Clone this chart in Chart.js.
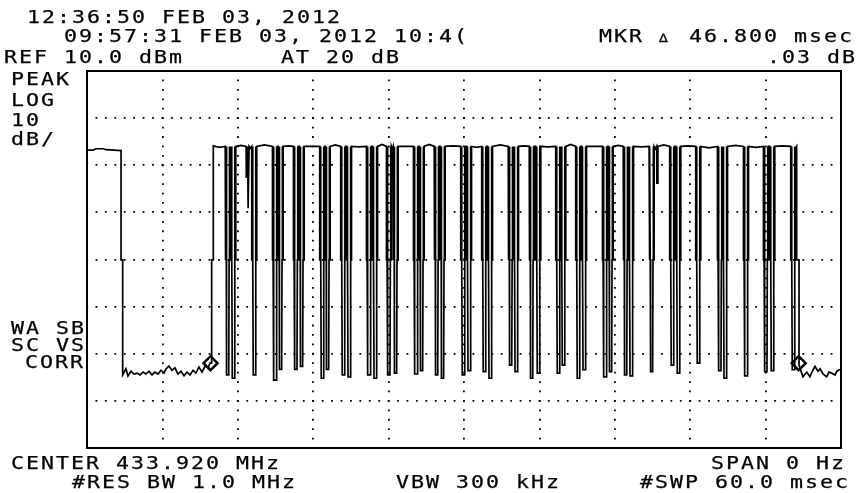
<!DOCTYPE html>
<html>
<head>
<meta charset="utf-8">
<script src="https://cdn.jsdelivr.net/npm/chart.js@4.4.1/dist/chart.umd.min.js"></script>
<style>
body { margin: 0; background: #fff; }
#wrap { position: relative; width: 859px; height: 493px; overflow: hidden; }
.t {
    position: absolute;
    font-family: "DejaVu Sans Mono", monospace;
    font-size: 18px;
    line-height: 18px;
    letter-spacing: 1.66px;
    white-space: pre;
    color: #000;
    -webkit-text-stroke: 0.25px #000;
    transform: scaleX(1.2);
    transform-origin: 0 0;
}
.d { font-size: 12px; letter-spacing: 5.28px; }
</style>
</head>
<body>
<div id="wrap">
    <canvas id="chart" width="859" height="493"></canvas>
    <div class="t" style="left:27px;top:8px">12:36:50 FEB 03, 2012</div>
    <div class="t" style="left:64px;top:27px">09:57:31 FEB 03, 2012 10:4(</div>
    <div class="t" style="left:4px;top:48px">REF 10.0 dBm</div>
    <div class="t" style="left:281px;top:48px">AT 20 dB</div>
    <div class="t" style="left:599px;top:27px">MKR <span class="d">∆</span> 46.800 msec</div>
    <div class="t" style="left:767px;top:48px">.03 dB</div>
    <div class="t" style="left:11px;top:70px">PEAK</div>
    <div class="t" style="left:11px;top:91px">LOG</div>
    <div class="t" style="left:11px;top:111px">10</div>
    <div class="t" style="left:11px;top:130px">dB/</div>
    <div class="t" style="left:11px;top:319px">WA SB</div>
    <div class="t" style="left:11px;top:336px">SC VS</div>
    <div class="t" style="left:25px;top:353px">CORR</div>
    <div class="t" style="left:11px;top:454px">CENTER 433.920 MHz</div>
    <div class="t" style="left:711px;top:454px">SPAN 0 Hz</div>
    <div class="t" style="left:72px;top:473px">#RES BW 1.0 MHz</div>
    <div class="t" style="left:396px;top:473px">VBW 300 kHz</div>
    <div class="t" style="left:640px;top:473px">#SWP 60.0 msec</div>
</div>
<script>
// sweep 0..60 ms, REF 10 dBm, 10 dB/div, 8 divisions
const sweepMs = [0, 60];
const levelDbm = [-70, 10];

// trace before the burst: carrier, drop, noise floor, rise (ms / dBm)
const leadMs = [0, 0.5, 0.7, 1.3, 1.5, 2.2, 2.71, 2.71, 2.84, 2.84,
    3.10, 3.26, 3.50, 3.74, 3.98, 4.22, 4.46, 4.69, 4.93, 5.17, 5.41, 5.65, 5.89,
    6.13, 6.29, 6.52, 6.76, 7.00, 7.24, 7.48, 7.72, 7.96, 8.20, 8.44, 8.67, 8.91,
    9.15, 9.39, 9.63, 9.79, 9.92, 9.92, 10.05, 10.05];
const leadDbm = [-6.8, -6.8, -6.5, -6.5, -6.7, -6.8, -6.9, -30.1, -30.1, -54.5,
    -53.2, -54.7, -53.7, -54.3, -54.1, -54.5, -53.9, -54.3, -53.7, -54.5, -53.9, -54.3, -53.5,
    -54.1, -53.2, -52.6, -53.5, -53.0, -54.3, -53.7, -54.7, -53.9, -54.5, -53.5, -54.1, -52.8,
    -53.9, -52.6, -53.0, -52.0, -52.0, -30.1, -30.1, -5.9];

// gaps in the burst: time of each dip and how far down it went
const dipMs = [11.20, 11.64, 12.71, 12.85, 13.31, 14.96, 15.41, 16.63, 17.08, 18.72,
    19.15, 20.39, 20.85, 22.44, 22.92, 24.03, 24.56, 26.18, 26.63, 27.83,
    28.30, 29.94, 30.40, 31.61, 32.07, 33.72, 34.14, 35.39, 35.91, 37.50,
    37.90, 39.09, 39.55, 41.22, 41.67, 42.87, 43.29, 44.93, 45.38, 46.57,
    47.05, 48.64, 50.37, 50.77, 52.44, 54.03, 54.53, 56.20];
const dipDbm = [-54.5, -55.2, -12.5, -19.1, -54.5, -55.6, -53.3, -53.3, -52.7, -55.2,
    -53.3, -54.5, -54.9, -54.5, -55.2, -54.5, -54.1, -54.3, -53.6, -54.5,
    -55.2, -54.5, -53.6, -53.8, -55.2, -52.4, -53.8, -55.2, -54.1, -54.1,
    -52.4, -55.2, -53.4, -54.9, -53.8, -54.5, -54.7, -53.8, -13.8, -52.4,
    -54.1, -52.0, -53.6, -55.2, -54.7, -53.8, -53.6, -53.4];
// carrier level in the middle of the gap before each dip (null = no room)
const gapTopDbm = [-6.2, -6.6, -5.8, null, -6.4, -5.7, -6.5, -5.9, -6.6, -6.0,
    -6.5, -5.7, -6.6, -6.1, -6.6, -5.6, -6.5, -6.0, -6.7, -5.6,
    -6.6, -5.9, -6.5, -6.2, -6.6, -5.7, -6.6, -5.9, -6.5, -6.1,
    -6.6, -5.6, -6.5, -6.0, -6.6, -5.8, -6.5, -6.1, -6.5, -5.7,
    -6.6, -5.9, -6.3, -6.6, -5.8, -6.2, -6.6, -5.9];

// end of burst and noise floor after it
const tailMs = [56.40, 56.47, 56.47, 56.66, 56.66, 56.97, 57.27, 57.53, 57.77, 57.93,
    58.17, 58.33, 58.57, 58.86, 59.04, 59.26, 59.52, 59.68, 59.84, 60];
const tailDbm = [-6.3, -6.0, -30.1, -30.1, -52.4, -54.9, -53.9, -54.9, -53.4, -52.7,
    -53.7, -53.2, -54.3, -54.9, -53.9, -54.1, -54.5, -53.7, -53.4, -53.4];

// markers: reference and delta (46.8 ms apart)
const markerMs = [9.83, 56.63];
const markerDbm = [-52.0, -52.0];

const topDbm = -6.0;
const stepDbm = -30.1;

const trace = [];
leadMs.forEach((t, i) => trace.push({ x: t, y: leadDbm[i] }));
let prevEnd = 10.05;
dipMs.forEach((t, i) => {
    const deep = dipDbm[i] < stepDbm;
    const w = deep ? 0.2 : 0.05;
    if (gapTopDbm[i] !== null && t - w - prevEnd > 0.12) {
        trace.push({ x: (prevEnd + t - w) / 2, y: gapTopDbm[i] });
    }
    if (deep) {
        // each gap shows as a dark column down to the -30 dBm step, then a thin spike
        trace.push({ x: t - 0.2, y: topDbm }, { x: t - 0.2, y: stepDbm },
            { x: t - 0.15, y: stepDbm }, { x: t - 0.13, y: topDbm },
            { x: t - 0.11, y: stepDbm }, { x: t - 0.08, y: dipDbm[i] },
            { x: t + 0.08, y: dipDbm[i] }, { x: t + 0.11, y: stepDbm },
            { x: t + 0.13, y: topDbm }, { x: t + 0.15, y: stepDbm },
            { x: t + 0.2, y: stepDbm }, { x: t + 0.2, y: topDbm });
    } else {
        trace.push({ x: t - 0.05, y: topDbm }, { x: t - 0.03, y: dipDbm[i] },
            { x: t + 0.03, y: dipDbm[i] }, { x: t + 0.05, y: topDbm });
    }
    prevEnd = t + w;
});
tailMs.forEach((t, i) => trace.push({ x: t, y: tailDbm[i] }));

const markers = markerMs.map((t, i) => ({ x: t, y: markerDbm[i] }));

const frame = {
    id: 'frame',
    afterDraw(chart) {
        const { ctx, chartArea: a } = chart;
        ctx.save();
        ctx.strokeStyle = '#000';
        ctx.lineWidth = 2;
        ctx.strokeRect(a.left, a.top, a.right - a.left, a.bottom - a.top);
        ctx.restore();
    }
};

const dots = { display: false, dash: [1.8, 7.625], dashOffset: 0.9 };

new Chart(document.getElementById('chart').getContext('2d'), {
    type: 'line',
    data: {
        datasets: [
            {
                data: trace,
                borderColor: '#000',
                borderWidth: 1.7,
                pointRadius: 0,
                tension: 0,
                fill: false
            },
            {
                data: markers,
                showLine: false,
                pointStyle: 'rectRot',
                pointRadius: 7,
                pointBorderWidth: 2.5,
                pointBorderColor: '#000',
                pointBackgroundColor: 'rgba(0,0,0,0)'
            }
        ]
    },
    options: {
        responsive: false,
        animation: false,
        devicePixelRatio: 1,
        events: [],
        layout: { padding: { left: 87, right: 18, top: 71, bottom: 45 } },
        plugins: { legend: { display: false }, tooltip: { enabled: false } },
        scales: {
            x: {
                type: 'linear',
                min: sweepMs[0],
                max: sweepMs[1],
                ticks: { display: false, stepSize: 6 },
                grid: { color: '#000', lineWidth: 1.8, drawTicks: false },
                border: dots,
                afterFit(s) { s.height = 0; }
            },
            y: {
                type: 'linear',
                min: levelDbm[0],
                max: levelDbm[1],
                ticks: { display: false, stepSize: 10 },
                grid: { color: '#000', lineWidth: 1.8, drawTicks: false },
                border: dots,
                afterFit(s) { s.width = 0; }
            }
        }
    },
    plugins: [frame]
});
</script>
</body>
</html>
